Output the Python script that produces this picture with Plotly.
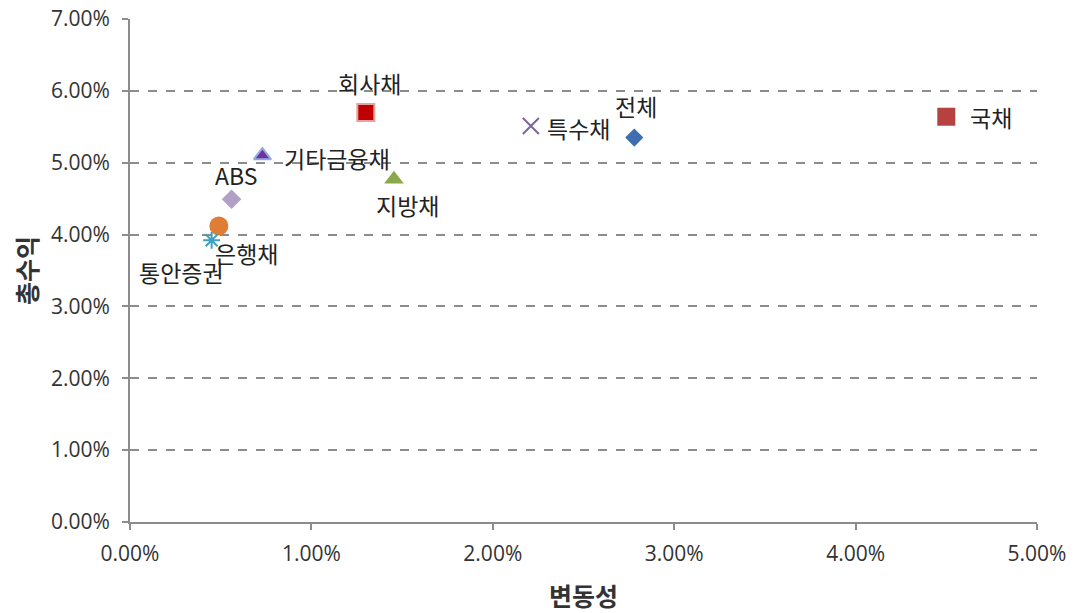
import plotly.graph_objects as go

# Bond sector risk/return (volatility vs. total return), in percent
names = ["전체", "국채", "특수채", "회사채", "기타금융채", "지방채", "ABS", "은행채", "통안증권"]
volatility = [2.78, 4.50, 2.21, 1.30, 0.73, 1.455, 0.56, 0.49, 0.45]
total_return = [5.35, 5.64, 5.51, 5.70, 5.10, 4.77, 4.49, 4.12, 3.92]

symbols = ["diamond", "square", "x-thin-open", "square", "triangle-up", "triangle-up",
           "diamond", "circle", "asterisk-open"]
colors = ["#3E6DB0", "#B5423F", "#7E649E", "#C00000", "#7030A0", "#8BA84A",
          "#B1A0C7", "#E07D34", "#3E9FBF"]
line_colors = ["#3E6DB0", "#B5423F", "#7E649E", "#E8A0A0", "#8FA9DE", "#8BA84A",
               "#B1A0C7", "#E07D34", "#3E9FBF"]
sizes = [14, 18, 16, 17, 15, 17, 15, 19, 14]
line_widths = [0, 0, 2, 2, 2, 0, 0, 0, 2]

# label placement: (x shift px, y shift px, anchor)
label_pos = [(2, 32, "center"), (22, 0, "left"), (14, -2, "left"), (4, 29, "center"),
             (20, -2, "left"), (14, -26, "center"), (4, 24, "center"),
             (-6, -27, "left"), (-30, -32, "center")]

FONT = "Noto Sans CJK KR, Noto Sans, sans-serif"

fig = go.Figure()
for i, n in enumerate(names):
    fig.add_trace(go.Scatter(
        x=[volatility[i] / 100], y=[total_return[i] / 100], mode="markers", name=n,
        marker=dict(symbol=symbols[i], size=sizes[i], color=colors[i],
                    line=dict(color=line_colors[i], width=line_widths[i])),
        showlegend=False,
    ))
    dx, dy, anc = label_pos[i]
    fig.add_annotation(x=volatility[i] / 100, y=total_return[i] / 100, text=n,
                       showarrow=False, xshift=dx, yshift=dy, xanchor=anc,
                       font=dict(size=23, color="#222222", family=FONT))

axis_font = dict(size=21, color="#333333", family="Open Sans, sans-serif")
fig.update_layout(
    width=1075, height=613,
    margin=dict(l=130, r=38, t=19, b=91),
    plot_bgcolor="white", paper_bgcolor="white",
    xaxis=dict(range=[0, 0.05], tickvals=[0, 0.01, 0.02, 0.03, 0.04, 0.05],
               tickformat=".2%", showgrid=False, zeroline=False, automargin=False,
               showline=True, linecolor="#8C8C8C", linewidth=2,
               ticks="outside", ticklen=6, tickcolor="#8C8C8C", tickwidth=2,
               ticklabelstandoff=6, tickfont=axis_font,
               title=dict(text="<b>변동성</b>", standoff=22,
                          font=dict(size=25, color="#333333", family=FONT))),
    yaxis=dict(range=[0, 0.07], dtick=0.01, tickformat=".2%", automargin=False,
               showgrid=True, gridcolor="#8C8C8C", griddash="dash", gridwidth=1.5,
               zeroline=False, showline=True, linecolor="#8C8C8C", linewidth=2,
               ticks="outside", ticklen=6, tickcolor="#8C8C8C", tickwidth=2,
               ticklabelstandoff=8, tickfont=axis_font,
               title=dict(text="<b>총수익</b>", standoff=6,
                          font=dict(size=25, color="#333333", family=FONT))),
)

fig.write_html("out.html")
